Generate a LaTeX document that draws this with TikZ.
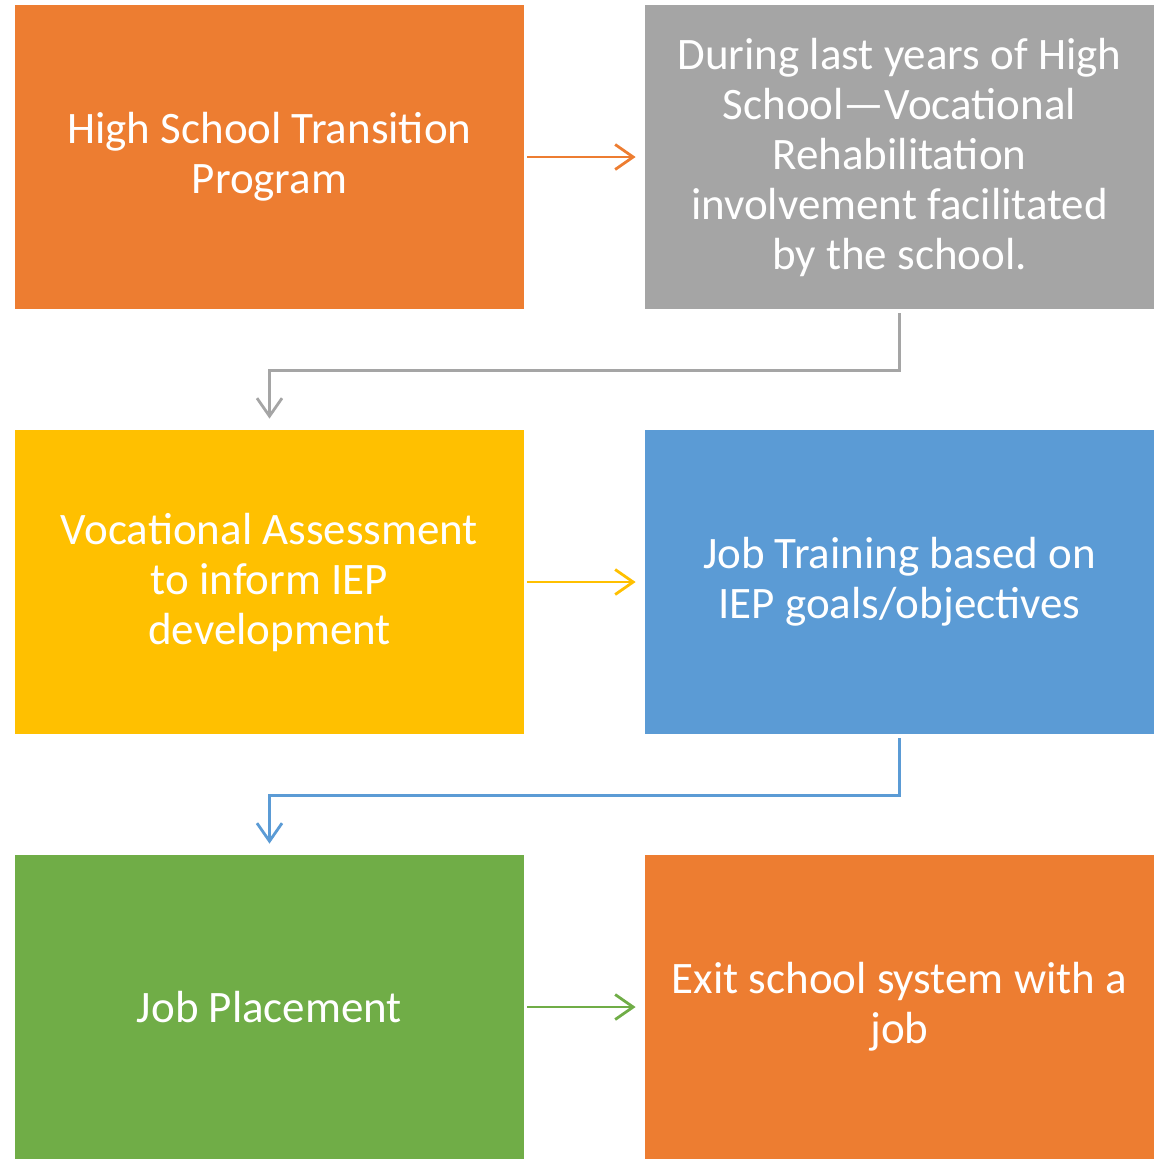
\documentclass[tikz,border=0pt]{standalone}
\usepackage{fontspec}
\setmainfont{Carlito}
\usetikzlibrary{positioning, arrows.meta}

\definecolor{orng}{HTML}{ED7D31}
\definecolor{gry}{HTML}{A5A5A5}
\definecolor{ylw}{HTML}{FFC000}
\definecolor{blu}{HTML}{5B9BD5}
\definecolor{grn}{HTML}{70AD47}

\begin{document}
\begin{tikzpicture}[x=0.5pt,y=-0.5pt,node distance=212.5pt and 315pt,on grid,
  >={Straight Barb[length=9pt,width=12.5pt]}]
\tikzstyle{stepbox}=[rectangle,minimum width=254.5pt,minimum height=152pt,
  inner sep=0pt,text=white,align=center,font=\fontsize{22.5}{25}\selectfont]
\tikzstyle{link}=[->,line width=1.4pt,shorten <=1.5pt,shorten >=4.5pt]
\tikzstyle{elbow}=[->,line width=1.4pt,shorten <=2pt,shorten >=5.5pt]

  \useasboundingbox (0,0) rectangle (1159,1158);

  %--- boxes ---
  \node[stepbox, fill=orng] (hs) at (269.5,157) {High School Transition\\Program};
  \node[stepbox, fill=gry] (vr) [right=of hs] {During last years of High\\School---Vocational\\Rehabilitation\\involvement facilitated\\by the school.};
  \node[stepbox, fill=ylw] (va) [below=of hs] {Vocational Assessment\\to inform IEP\\development};
  \node[stepbox, fill=blu] (jt) [right=of va] {Job Training based on\\IEP goals/objectives};
  \node[stepbox, fill=grn] (jp) [below=of va] {Job Placement};
  \node[stepbox, fill=orng] (ex) [right=of jp] {Exit school system with a\\job};

  %--- arrows ---
  \draw[link, orng] (hs) -- (vr);
  \draw[link, ylw] (va) -- (jt);
  \draw[link, grn] (jp) -- (ex);

  \draw[elbow, gry] (vr.south) -- ++(0,61) -| (va.north);
  \draw[elbow, blu] (jt.south) -- ++(0,61) -| (jp.north);
\end{tikzpicture}
\end{document}
